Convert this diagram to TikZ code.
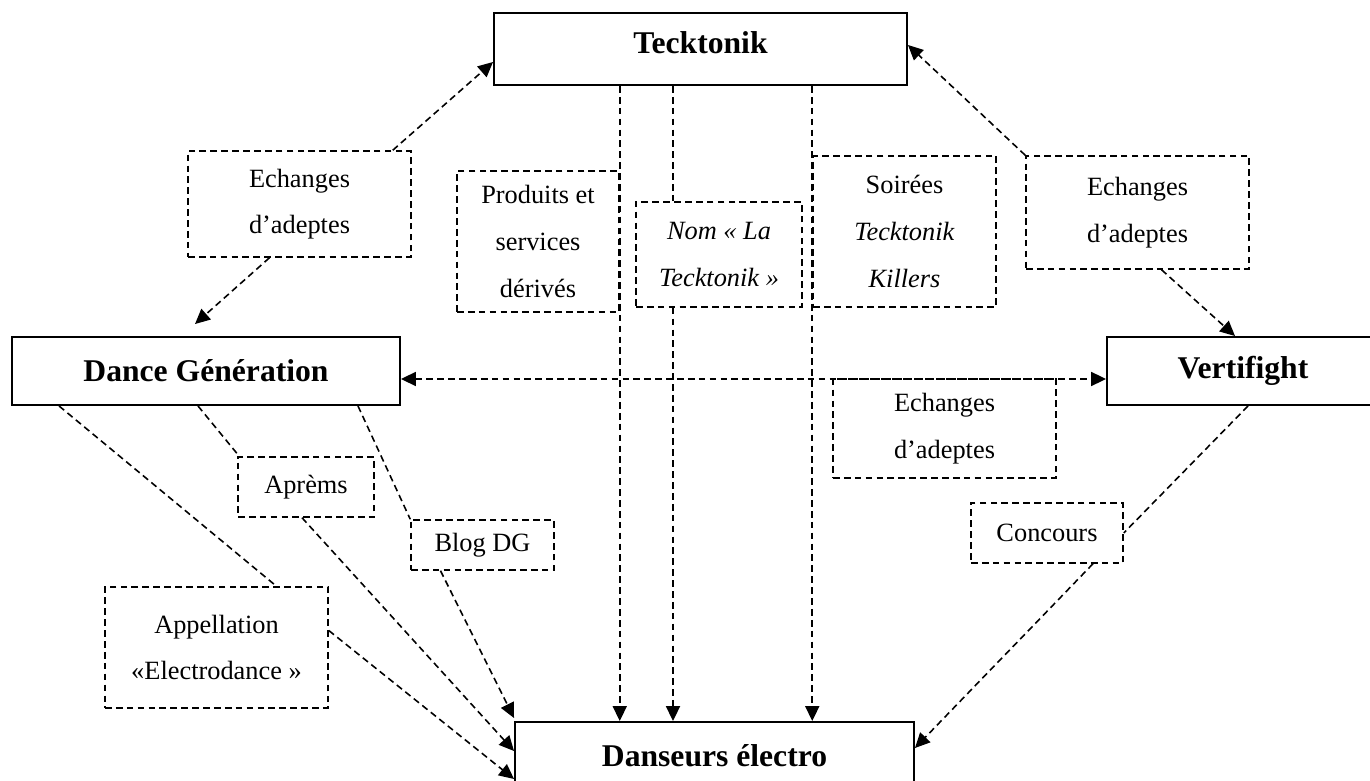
\documentclass[tikz,border=0pt]{standalone}
\usepackage{fontspec}
\setmainfont{Liberation Serif}
\usetikzlibrary{arrows.meta,calc}

\begin{document}
\begin{tikzpicture}[
  x=0.2mm, y=-0.2mm,
  every node/.style={align=center, inner sep=0pt, font=\fontsize{15}{26.5}\selectfont},
  actor/.style={draw, line width=1.1pt, font=\fontsize{18}{22}\selectfont\bfseries},
  tag/.style={draw, line width=0.85pt, dash pattern=on 3.8pt off 2.4pt},
  flow/.style={line width=0.9pt, dash pattern=on 3.8pt off 2.4pt},
  >={Triangle[length=8.5pt,width=8pt]}
]
\useasboundingbox (0,0) rectangle (1370,781);

% main actors
\node[actor, minimum width=8.26cm, minimum height=1.44cm, text depth=0.24cm] (tek) at (700.5,49) {Tecktonik};
\node[actor, minimum width=7.76cm, minimum height=1.36cm] (dg)   at (206,371)   {Dance Génération};
\node[actor, minimum width=5.44cm, minimum height=1.36cm] (vf)   at (1243,371)  {Vertifight};
\node[actor, minimum width=7.98cm, minimum height=1.36cm] (dans) at (714.5,756) {Danseurs électro};

% dashed labels
\node[tag, minimum width=4.46cm, minimum height=2.12cm] (exL)  at (299.5,204)  {Echanges\\d’adeptes};
\node[tag, minimum width=3.24cm, minimum height=2.82cm] (prod) at (538,241.5)  {Produits et\\services\\dérivés};
\node[tag, minimum width=3.32cm, minimum height=2.10cm] (nom)  at (719,254.5)  {\textit{Nom « La}\\\textit{Tecktonik »}};
\node[tag, minimum width=3.66cm, minimum height=3.02cm] (soir) at (904.5,231.5) {Soirées\\\textit{Tecktonik}\\\textit{Killers}};
\node[tag, minimum width=4.46cm, minimum height=2.26cm] (exR)  at (1137.5,212.5) {Echanges\\d’adeptes};
\node[tag, minimum width=4.46cm, minimum height=1.98cm] (exM)  at (944.5,428.5) {Echanges\\d’adeptes};
\node[tag, minimum width=2.72cm, minimum height=1.20cm] (apr)  at (306,487)    {Aprèms};
\node[tag, minimum width=2.86cm, minimum height=1.00cm] (blog) at (482.5,545)  {Blog DG};
\node[tag, minimum width=3.04cm, minimum height=1.20cm] (conc) at (1047,533)   {Concours};
\node[tag, minimum width=4.46cm, minimum height=2.42cm] (app)  at (216.5,647.5) {Appellation\\«Electrodance »};

\coordinate (nomx) at (673,0);

% exchanges between actors
\draw[flow,->] ($(exL.north east)+(-19,0)$) -- ($(tek.west)+(0,13)$);
\draw[flow,->] ($(exL.south)+(-30,0)$) -- ($(dg.north)+(-11,-12)$);
\draw[flow,->] (exR.north west) -- ($(tek.east)+(0,-4)$);
\draw[flow,->] ($(exR.south)+(24,0)$) -- ($(vf.north)+(-8,0)$);
\draw[flow,<->] ($(dg.east)+(0,8)$) -- ($(vf.west)+(0,8)$);

% from Tecktonik
\draw[flow,->] (tek.south -| prod.east) -- (dans.north -| prod.east);
\draw[flow] (tek.south -| nomx) -- (nom.north -| nomx);
\draw[flow,->] (nom.south -| nomx) -- (dans.north -| nomx);
\draw[flow,->] (tek.south -| soir.west) -- (dans.north -| soir.west);

% from Dance Generation
\draw[flow] ($(dg.south west)+(48,0)$) -- ($(app.north)+(60,0)$);
\draw[flow,->] ($(app.east)+(0,-17)$) -- ($(dans.west)+(0,23)$);
\draw[flow] ($(dg.south)+(-8,0)$) -- ($(apr.north west)+(2,0)$);
\draw[flow,->] ($(apr.south)+(-4,0)$) -- ($(dans.west)+(0,-5)$);
\draw[flow] ($(dg.south east)+(-43,0)$) -- (blog.north west);
\draw[flow,->] ($(blog.south)+(-42,0)$) -- ($(dans.north west)+(0,-3)$);

% from Vertifight
\draw[flow] ($(vf.south)+(5,0)$) -- (conc.east);
\draw[flow,->] ($(conc.south)+(46,0)$) -- ($(dans.east)+(0,-8)$);
\end{tikzpicture}
\end{document}
